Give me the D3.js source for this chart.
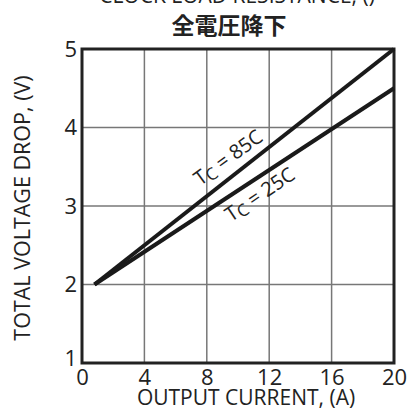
<!DOCTYPE html>
<html>
<head>
<meta charset="utf-8">
<script src="https://cdn.jsdelivr.net/npm/d3@7"></script>
<style>
body { margin: 0; background: #fff; }
text { font-family: "Open Sans", "Noto Sans", sans-serif; fill: #222; }
</style>
</head>
<body>
<div id="chart"></div>
<script>
var xTicks = [0, 4, 8, 12, 16, 20];
var yTicks = [1, 2, 3, 4, 5];
var current = [0.8, 20];
var drop85 = [2, 5];
var drop25 = [2, 4.5];

function init(){
    var w = 409, h = 410;
    var left = 82, right = 394, top = 49, bottom = 363;

    var svg = d3.select("#chart").append("svg")
        .attr("width", w)
        .attr("height", h);

    var xScale = d3.scaleLinear().domain([0, 20]).range([left, right]);
    var yScale = d3.scaleLinear().domain([1, 5]).range([bottom, top]);

    // grid
    svg.append("g").selectAll("line")
        .data(xTicks.slice(1, -1))
        .enter().append("line")
        .attr("x1", function(d){ return xScale(d); })
        .attr("x2", function(d){ return xScale(d); })
        .attr("y1", top).attr("y2", bottom)
        .attr("stroke", "#777").attr("stroke-width", 1.5);
    svg.append("g").selectAll("line")
        .data(yTicks.slice(1, -1))
        .enter().append("line")
        .attr("y1", function(d){ return yScale(d); })
        .attr("y2", function(d){ return yScale(d); })
        .attr("x1", left).attr("x2", right)
        .attr("stroke", "#777").attr("stroke-width", 1.5);

    // frame
    svg.append("rect")
        .attr("x", left).attr("y", top)
        .attr("width", right - left).attr("height", bottom - top)
        .attr("fill", "none").attr("stroke", "#222").attr("stroke-width", 3);

    // tick labels
    var xAxis = d3.axisBottom(xScale).tickValues(xTicks).tickFormat(d3.format("d"))
        .tickSize(0).tickPadding(6);
    var gx = svg.append("g").attr("transform", "translate(0," + bottom + ")").call(xAxis);
    gx.select(".domain").remove();
    gx.attr("font-size", 22).attr("font-family", null);

    var yAxis = d3.axisLeft(yScale).tickValues(yTicks).tickFormat(d3.format("d"))
        .tickSize(0).tickPadding(5);
    var gy = svg.append("g").attr("transform", "translate(" + left + ",0)").call(yAxis);
    gy.select(".domain").remove();
    gy.attr("font-size", 22).attr("font-family", null);
    gy.selectAll(".tick").filter(function(d){ return d === 1; })
        .select("text").attr("dy", "0.1em");

    // lines
    var line = d3.line()
        .x(function(d){ return xScale(d[0]); })
        .y(function(d){ return yScale(d[1]); });

    [drop85, drop25].forEach(function(s){
        svg.append("path")
            .datum(current.map(function(c, i){ return [c, s[i]]; }))
            .attr("d", line)
            .attr("fill", "none")
            .attr("stroke", "#1a1a1a")
            .attr("stroke-width", 4);
    });

    // curve labels
    function label(txt, x, y, ang){
        var t = svg.append("text")
            .attr("transform", "translate(" + xScale(x) + "," + yScale(y) + ") rotate(" + ang + ")")
            .attr("font-size", 20)
            .attr("text-anchor", "middle")
            .attr("dy", "0.35em");
        t.append("tspan").text("T");
        t.append("tspan").attr("font-size", 17).attr("dy", 3).text("C");
        t.append("tspan").attr("dy", -3).text(" = " + txt);
    }
    label("85C", 9.36, 3.62, -36);
    label("25C", 11.4, 3.15, -34);

    // titles
    svg.append("text")
        .attr("x", 237).attr("y", 3)
        .attr("text-anchor", "middle")
        .attr("font-size", 21)
        .text("CLOCK LOAD RESISTANCE, ()");

    svg.append("text")
        .attr("x", 229).attr("y", 34)
        .attr("text-anchor", "middle")
        .attr("font-size", 23)
        .attr("font-weight", "bold")
        .style("font-family", "'Noto Sans CJK JP', sans-serif")
        .text("全電圧降下");

    svg.append("text")
        .attr("x", 246).attr("y", 405)
        .attr("text-anchor", "middle")
        .attr("font-size", 21)
        .text("OUTPUT CURRENT, (A)");

    svg.append("text")
        .attr("transform", "translate(30," + 208 + ") rotate(-90)")
        .attr("text-anchor", "middle")
        .attr("font-size", 21.5)
        .text("TOTAL VOLTAGE DROP, (V)");
}

window.onload = init;
</script>
</body>
</html>
